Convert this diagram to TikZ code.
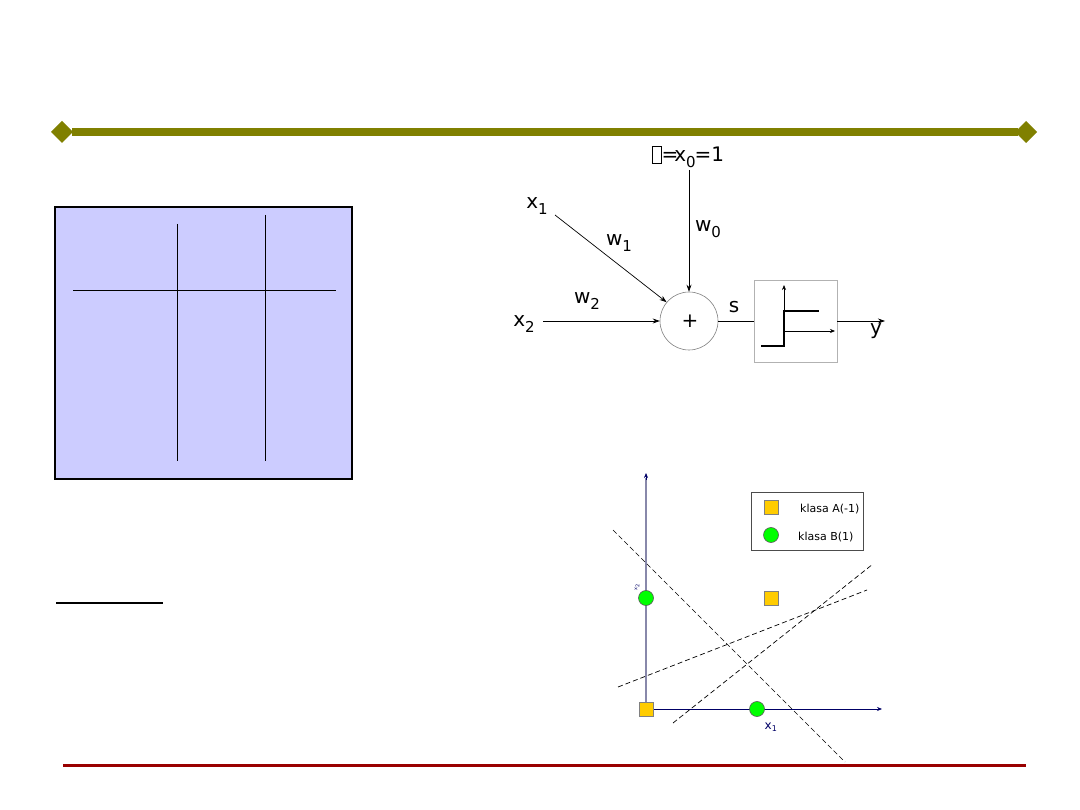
\documentclass[tikz,border=0pt]{standalone}
\usepackage{fontspec}
\setmainfont{DejaVu Sans}
\usetikzlibrary{arrows.meta}
\definecolor{olivebar}{RGB}{128,128,0}
\definecolor{darkred}{RGB}{153,0,0}
\definecolor{boxblue}{RGB}{204,204,255}
\definecolor{axisgray}{RGB}{136,136,170}
\definecolor{navy}{RGB}{0,0,102}
\definecolor{sqyellow}{RGB}{255,204,0}
\definecolor{ptgreen}{RGB}{0,255,0}
\newcommand\sbs[1]{\raisebox{-0.28em}{\fontsize{15}{15}\selectfont #1}}
\tikzset{
  lbl/.style={font=\fontsize{20}{22}\selectfont, inner sep=0pt},
  conn/.style={draw=black, line width=0.7pt, -{Stealth[length=7pt,width=5pt]}},
  sq/.style={draw=gray, fill=sqyellow, minimum size=14pt, inner sep=0pt, line width=0.6pt},
  pt/.style={circle, draw=gray!70!black, fill=ptgreen, minimum size=15pt, inner sep=0pt, line width=0.6pt},
  dline/.style={dashed, line width=0.7pt, dash pattern=on 5pt off 3pt},
  tline/.style={line width=1pt},
  small/.style={font=\fontsize{11}{13}\selectfont, inner sep=0pt}
}
\begin{document}
\begin{tikzpicture}[x=1pt,y=-1pt]
\useasboundingbox (0,0) rectangle (1080,810);
% header bar
\fill[olivebar] (72,128) rectangle (1018,136);
\fill[olivebar] (62,121) -- (73,132) -- (62,143) -- (51,132) -- cycle;
\fill[olivebar] (1026,121) -- (1037,132) -- (1026,143) -- (1015,132) -- cycle;
% bottom line
\draw[darkred, line width=3pt] (63,765) -- (1026,765);
% table box
\draw[fill=boxblue, line width=1.5pt] (55,207) rectangle (352,479);
\draw[tline] (73,291) -- (336,291);
\draw[tline] (177,224) -- (177,461);
\draw[tline] (265,215) -- (265,461);
% underline
\draw[line width=2.2pt] (56,603) -- (163,603);

% neuron
\node[lbl] (bias) at (688,157) {\raisebox{-1pt}{\setlength{\fboxsep}{0pt}\fbox{\rule{0pt}{16pt}\kern9pt}}\kern0pt=\kern-4pt x\sbs{0}\kern-1pt=1};
\node[circle, draw=gray, minimum size=58pt, inner sep=0pt, line width=0.6pt] (sum) at (689,321) {};
\node[lbl] at (690,321) {+};
\node[lbl] (x1) at (537,206) {x\sbs{1}};
\node[lbl] (x2) at (524,324) {x\sbs{2}};
\coordinate (x1e) at (555,215);
\coordinate (x2e) at (543,321);
\coordinate (b0) at (689,170);
\draw[conn] (b0) -- (sum.north);
\draw[conn] (x1e) -- (sum.140);
\draw[conn] (x2e) -- (sum.west);
\node[lbl] at (708,229) {w\sbs{0}};
\node[lbl] at (619,243) {w\sbs{1}};
\node[lbl] at (587,301) {w\sbs{2}};
\node[lbl] at (734,307) {s};
\node[draw=gray!60, line width=0.8pt, minimum width=83pt, minimum height=82pt, inner sep=0pt] (act) at (795.5,321) {};
\draw[line width=0.7pt] (sum.east) -- (act.west);
\coordinate (yout) at (885,321);
\draw[conn] (act.east) -- (yout);
\node[lbl] at (876,331) {y};
\draw[line width=0.6pt, -{Stealth[length=5pt,width=4pt]}] (784,347) -- (784,285);
\draw[line width=0.6pt, -{Stealth[length=5pt,width=4pt]}] (784,331) -- (835,331);
\draw[line width=1.6pt] (761,346) -- (784,346) -- (784,311) -- (819,311);

% plot
\coordinate (o) at (646,709);
\draw[axisgray, line width=1.5pt] (o) -- (646,478);
\draw[navy, line width=0.6pt, -{Stealth[length=5pt,width=4pt]}] (646,480) -- (646,473);
\draw[navy, line width=0.7pt, -{Stealth[length=5pt,width=4pt]}] (o) -- (882,709);
\draw[dline] (613,530) -- (845,762);
\draw[dline] (618,687) -- (867,590);
\draw[dline] (673,723) -- (873,564);
\node[draw=black!70, line width=0.7pt, minimum width=112pt, minimum height=58pt, inner sep=0pt] (leg) at (807,521) {};
\node[sq] (lsq) at (771,507) {};
\node[pt] (lpt) at (771,535) {};
\node[small, anchor=west] at (800,509) {klasa A(-1)};
\node[small, anchor=west] at (798,537) {klasa B(1)};
\node[pt] (p1) at (646,598) {};
\node[sq] (p2) at (771,598) {};
\node[sq] (p3) at (646,709) {};
\node[pt] (p4) at (757,709) {};
\node[font=\fontsize{12}{14}\selectfont, text=navy, inner sep=0pt] at (771,727) {x\textsubscript{1}};
\node[font=\fontsize{5}{6}\selectfont, text=navy, rotate=90, inner sep=0pt] at (637,587) {x\textsubscript{2}};
\end{tikzpicture}
\end{document}
